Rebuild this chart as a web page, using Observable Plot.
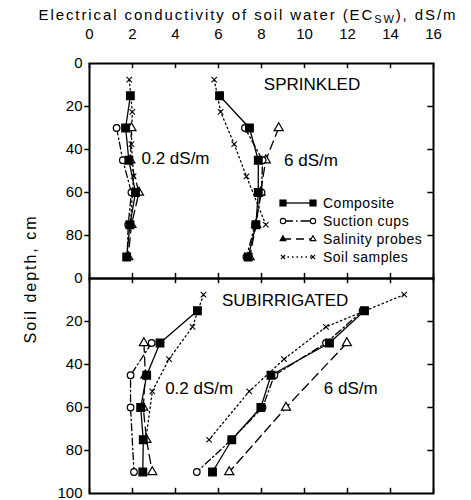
<!DOCTYPE html>
<html>
<head>
<meta charset="utf-8">
<script src="https://cdn.jsdelivr.net/npm/d3@7"></script>
<script src="https://cdn.jsdelivr.net/npm/@observablehq/plot@0.6"></script>
<style>
  html, body { margin: 0; padding: 0; background: #fff; }
  #chart { width: 471px; height: 500px; }
</style>
</head>
<body>
<div id="chart"></div>
<script>
// ---------- data ----------
const panels = ["SPRINKLED", "SUBIRRIGATED"];
const xTicks = [0, 2, 4, 6, 8, 10, 12, 14, 16];
const depthTicksTop = [0, 20, 40, 60, 80];
const depthTicksBottom = [0, 20, 40, 60, 80, 100];
const seriesNames = ["Composite", "Suction cups", "Salinity probes", "Soil samples"];

const probeDepths = [15, 30, 45, 60, 75, 90];
const cupDepths = [30, 45, 60, 75, 90];
const sampleDepths = [7.5, 22.5, 37.5, 52.5, 75];

// SPRINKLED, 0.2 dS/m
const sprLowComposite = [1.90, 1.68, 1.83, 2.14, 1.88, 1.73];
const sprLowSuction = [1.26, 1.55, 1.95, 1.80, 1.75];
const sprLowSalinity = [1.95, 1.90, 2.30, 1.95, 1.80];
const sprLowSoil = [1.85, 1.99, 1.95, 2.05, 1.90];

// SPRINKLED, 6 dS/m
const sprHighComposite = [6.05, 7.44, 7.85, 7.85, 7.74, 7.38];
const sprHighSuction = [7.23, 8.05, 8.00, 7.70, 7.30];
const sprHighSalinity = [8.80, 8.20, 7.95, 7.75, 7.45];
const sprHighSoil = [5.80, 6.10, 6.73, 7.30, 8.20];

// SUBIRRIGATED, 0.2 dS/m
const subLowComposite = [5.02, 3.28, 2.66, 2.38, 2.50, 2.48];
const subLowSuctionDepths = [30, 45, 60, 90];
const subLowSuction = [2.89, 1.91, 1.91, 2.07];
const subLowSalinity = [2.53, 2.60, 2.50, 2.65, 2.92];
const subLowSoil = [5.30, 4.79, 3.70, 2.92, 2.62];

// SUBIRRIGATED, 6 dS/m
const subHighComposite = [12.79, 11.16, 8.44, 7.97, 6.62, 5.72];
const subHighSuction = [12.70, 11.00, 8.60, 8.05, 6.60, 4.99];
const subHighSalinityDepths = [30, 60, 90];
const subHighSalinity = [11.97, 9.14, 6.50];
const subHighSoil = [14.64, 11.00, 9.05, 7.43, 5.56];

// text annotations
const annotations = [
  {panel: "SPRINKLED", x: 10.35, y: 9.8, text: "SPRINKLED"},
  {panel: "SPRINKLED", x: 4.0, y: 44, text: "0.2 dS/m"},
  {panel: "SPRINKLED", x: 10.3, y: 45, text: "6 dS/m"},
  {panel: "SUBIRRIGATED", x: 9.1, y: 10.2, text: "SUBIRRIGATED"},
  {panel: "SUBIRRIGATED", x: 5.1, y: 51, text: "0.2 dS/m"},
  {panel: "SUBIRRIGATED", x: 12.15, y: 51, text: "6 dS/m"}
];

// ---------- build table ----------
const rows = [];
function add(panel, group, series, depths, values) {
  depths.forEach((d, i) => rows.push({panel, group, series, depth: d, ec: values[i]}));
}
add("SPRINKLED", "low", "Composite", probeDepths, sprLowComposite);
add("SPRINKLED", "low", "Suction cups", cupDepths, sprLowSuction);
add("SPRINKLED", "low", "Salinity probes", cupDepths, sprLowSalinity);
add("SPRINKLED", "low", "Soil samples", sampleDepths, sprLowSoil);
add("SPRINKLED", "high", "Composite", probeDepths, sprHighComposite);
add("SPRINKLED", "high", "Suction cups", cupDepths, sprHighSuction);
add("SPRINKLED", "high", "Salinity probes", cupDepths, sprHighSalinity);
add("SPRINKLED", "high", "Soil samples", sampleDepths, sprHighSoil);
add("SUBIRRIGATED", "low", "Composite", probeDepths, subLowComposite);
add("SUBIRRIGATED", "low", "Suction cups", subLowSuctionDepths, subLowSuction);
add("SUBIRRIGATED", "low", "Salinity probes", cupDepths, subLowSalinity);
add("SUBIRRIGATED", "low", "Soil samples", sampleDepths, subLowSoil);
add("SUBIRRIGATED", "high", "Composite", probeDepths, subHighComposite);
add("SUBIRRIGATED", "high", "Suction cups", probeDepths, subHighSuction);
add("SUBIRRIGATED", "high", "Salinity probes", subHighSalinityDepths, subHighSalinity);
add("SUBIRRIGATED", "high", "Soil samples", sampleDepths, subHighSoil);

const sty = {
  "Composite":       {dash: null,        legendDash: null,         symbol: "square",   fill: "black", r: 4.3, d3sym: d3.symbolSquare},
  "Suction cups":    {dash: "7,3,1.5,3", legendDash: "10,3,1.5,3", symbol: "circle",   fill: "white", r: 3.3, d3sym: d3.symbolCircle},
  "Salinity probes": {dash: "9,5",       legendDash: "8,5",        symbol: "triangle", fill: "white", r: 3.4, d3sym: d3.symbolTriangle2},
  "Soil samples":    {dash: "1.5,3",     legendDash: "1.5,3",      symbol: "times",    fill: "none",  r: 2.6, d3sym: d3.symbolTimes}
};

const drawOrder = ["Soil samples", "Salinity probes", "Suction cups", "Composite"];
const lineMarks = drawOrder.map(s => Plot.line(rows.filter(d => d.series === s), {
  x: "ec", y: "depth", fy: "panel", z: "group",
  stroke: "black", strokeWidth: 1.3, strokeDasharray: sty[s].dash || undefined
}));
const dotMarks = drawOrder.map(s => Plot.dot(rows.filter(d => d.series === s), {
  x: "ec", y: "depth", fy: "panel", symbol: () => sty[s].symbol, r: sty[s].r,
  fill: sty[s].fill, stroke: "black", strokeWidth: s === "Soil samples" ? 1.1 : 1.2
}));

const labelFont = "Liberation Sans, Arial, Helvetica, sans-serif";

const tickLabelRows = [
  ...depthTicksTop.map(v => ({panel: "SPRINKLED", v})),
  ...depthTicksBottom.map(v => ({panel: "SUBIRRIGATED", v}))
];
const innerTicks = [20, 40, 60, 80];

const chart = Plot.plot({
  width: 471,
  height: 500,
  marginTop: 62,
  marginBottom: 7,
  marginLeft: 89,
  marginRight: 38,
  x: {domain: [0, 16]},
  y: {domain: [0, 100], reverse: true, axis: null},
  fy: {domain: panels, padding: 0, axis: null},
  style: {fontFamily: labelFont, fontSize: "15px", background: "white", color: "black"},
  marks: [
    // inward x ticks on top and bottom of each panel
    Plot.ruleX(xTicks, {x: d => d, y1: 0, y2: 2.4, stroke: "black", strokeWidth: 1.5}),
    Plot.ruleX(xTicks, {x: d => d, y1: 97.6, y2: 100, stroke: "black", strokeWidth: 1.5}),
    // right inward ticks, left outward ticks
    Plot.ruleY(innerTicks, {y: d => d, x1: 15.74, x2: 16, stroke: "black", strokeWidth: 1.5}),
    Plot.ruleY(innerTicks, {y: d => d, x1: -0.22, x2: 0, stroke: "black", strokeWidth: 1.5}),
    ...lineMarks,
    ...dotMarks,
    Plot.frame({stroke: "black", strokeWidth: 2}),
    Plot.axisX(xTicks, {anchor: "top", tickSize: 0, tickPadding: 25, label: null,
      fontSize: 15, style: {letterSpacing: "0.8px"}}),
    Plot.text(tickLabelRows, {fy: "panel", y: "v", text: d => String(d.v),
      frameAnchor: "left", dx: -7, textAnchor: "end", fontSize: 15, style: {letterSpacing: "0.8px"}}),
    Plot.text(annotations, {fy: "panel", x: "x", y: "y", text: "text", fontSize: 17,
      textAnchor: "middle", style: {letterSpacing: "1.2px"}})
  ]
});
document.getElementById("chart").appendChild(chart);

// ---------- title, y label, legend ----------
const svg = d3.select(chart);
const title = svg.append("text")
  .attr("x", 247).attr("y", 20)
  .attr("text-anchor", "middle")
  .attr("font-family", labelFont).attr("font-size", 15)
  .attr("textLength", 417).attr("lengthAdjust", "spacing")
  .attr("fill", "black");
title.append("tspan").text("Electrical conductivity of soil water (EC");
title.append("tspan").attr("dy", 3).attr("font-size", 11).text("SW");
title.append("tspan").attr("dy", -3).text("), dS/m");

svg.append("text")
  .attr("transform", "translate(36,280) rotate(-90)")
  .attr("text-anchor", "middle")
  .attr("font-family", labelFont).attr("font-size", 16)
  .attr("textLength", 127).attr("lengthAdjust", "spacing")
  .attr("fill", "black")
  .text("Soil depth, cm");

const legendY = [203, 221, 239, 257];
const lg = svg.append("g");
seriesNames.forEach((s, i) => {
  const y = legendY[i];
  lg.append("line").attr("x1", 283).attr("x2", 313).attr("y1", y).attr("y2", y)
    .attr("stroke", "black").attr("stroke-width", 1.3)
    .attr("stroke-dasharray", sty[s].legendDash);
  const size = Math.PI * (sty[s].r * 0.8) ** 2;
  const sym = d3.symbol().type(sty[s].d3sym).size(size);
  [283, 313].forEach((x, j) => {
    let fill = sty[s].fill;
    if (s === "Salinity probes" && j === 0) fill = "black";
    lg.append("path").attr("d", sym()).attr("transform", `translate(${x},${y})`)
      .attr("fill", fill).attr("stroke", "black").attr("stroke-width", 1.1);
  });
  lg.append("text").attr("x", 323).attr("y", y).attr("dy", "0.35em")
    .attr("text-anchor", "start")
    .attr("font-family", labelFont).attr("font-size", 14)
    .style("letter-spacing", "0.5px")
    .attr("fill", "black").text(s);
});
</script>
</body>
</html>
